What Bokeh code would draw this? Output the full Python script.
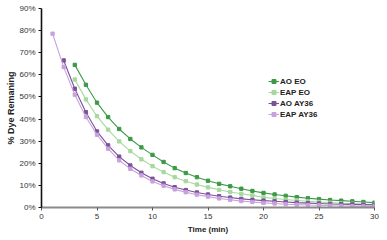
from bokeh.plotting import figure
from bokeh.models import Range1d, Legend, LegendItem, FixedTicker, CustomJSTickFormatter
from bokeh.embed import file_html
from bokeh.resources import INLINE

# ---- data ----
t_ao_eo = list(range(3, 31))
ao_eo = [64.5, 55.5, 47.4, 40.9, 35.5, 31.0, 27.2, 23.8, 20.6, 17.8, 15.6, 13.7, 12.1, 10.7,
         9.6, 8.5, 7.5, 6.6, 5.9, 5.3, 4.7, 4.2, 3.8, 3.4, 3.1, 2.8, 2.5, 2.2]
t_eap_eo = list(range(3, 31))
eap_eo = [57.9, 48.9, 41.3, 35.2, 29.9, 25.5, 21.8, 18.7, 16.0, 13.7, 11.9, 10.4, 9.1, 8.0,
          7.0, 6.2, 5.5, 4.6, 4.1, 3.6, 3.2, 2.8, 2.5, 2.2, 1.9, 1.7, 1.5, 1.3]
t_ao_ay = list(range(2, 31))
ao_ay = [66.5, 53.7, 43.1, 34.4, 28.1, 23.0, 19.0, 15.7, 13.0, 10.9, 9.2, 7.9, 6.8, 5.9, 5.1,
         4.5, 3.9, 3.5, 3.1, 2.8, 2.5, 2.2, 2.0, 1.8, 1.6, 1.5, 1.4, 1.3, 1.2]
t_eap_ay = list(range(1, 31))
eap_ay = [78.6, 63.5, 51.0, 40.9, 32.9, 26.6, 21.3, 17.5, 14.5, 11.8, 9.8, 8.2, 6.9, 5.8, 4.9,
          4.1, 3.5, 2.9, 2.5, 2.1, 1.8, 1.5, 1.3, 1.1, 1.0, 0.8, 0.7, 0.6, 0.5, 0.5]

series = [
    ("AO EO", t_ao_eo, ao_eo, "#3c9a47"),
    ("EAP EO", t_eap_eo, eap_eo, "#a6d99e"),
    ("AO AY36", t_ao_ay, ao_ay, "#7b5299"),
    ("EAP AY36", t_eap_ay, eap_ay, "#c8a2dc"),
]
x_ticks = [0, 5, 10, 15, 20, 25, 30]
y_ticks = [0, 10, 20, 30, 40, 50, 60, 70, 80, 90]

FONT = "Liberation Sans"

p = figure(width=387, height=240, output_backend="svg", toolbar_location=None,
           x_range=Range1d(0, 30), y_range=Range1d(0, 90),
           min_border_left=41, min_border_right=13, min_border_top=8, min_border_bottom=33,
           x_axis_label="Time (min)", y_axis_label="% Dye Remaning")
p.outline_line_color = None
p.xgrid.visible = False
p.ygrid.visible = False
p.background_fill_color = "white"

items = []
for name, xs, ys, col in series:
    r1 = p.line(xs, ys, line_color=col, line_width=1.1)
    r2 = p.scatter(xs, ys, marker="square", size=3.3, fill_color=col, line_color=col)
    items.append(LegendItem(label=name, renderers=[r1, r2]))

legend = Legend(items=items, location=(227, 88), padding=0, margin=0, spacing=1,
                glyph_width=11, glyph_height=10, label_height=10, label_standoff=1,
                label_text_font=FONT, label_text_font_size="8px", label_text_font_style="bold",
                label_text_color="#222222", border_line_color=None, background_fill_alpha=0)
p.add_layout(legend)

# axes
p.xaxis.ticker = FixedTicker(ticks=x_ticks)
p.yaxis.ticker = FixedTicker(ticks=y_ticks)
for ax in (p.xaxis, p.yaxis):
    ax.minor_tick_line_color = None
    ax.major_tick_in = 0
    ax.major_tick_out = 3
    ax.major_label_text_font = FONT
    ax.major_label_text_font_size = "8px"
    ax.major_label_text_color = "#333333"
    ax.major_label_standoff = 3
    ax.axis_label_text_font = FONT
    ax.axis_label_text_font_size = "8px"
    ax.axis_label_text_font_style = "bold"
    ax.axis_label_text_color = "#222222"
    ax.axis_label_standoff = 3
p.yaxis.axis_label_text_font_size = "9px"
p.yaxis.axis_label_standoff = 0
p.yaxis.formatter = CustomJSTickFormatter(code="return tick + '%';")
p.yaxis.axis_line_color = "#111111"
p.yaxis.axis_line_width = 1.6
p.yaxis.major_tick_line_color = "#111111"
p.xaxis.axis_line_color = "#8a8a8a"
p.xaxis.axis_line_width = 2
p.xaxis.major_tick_line_color = "#555555"

open("out.html", "w").write(file_html(p, INLINE))
